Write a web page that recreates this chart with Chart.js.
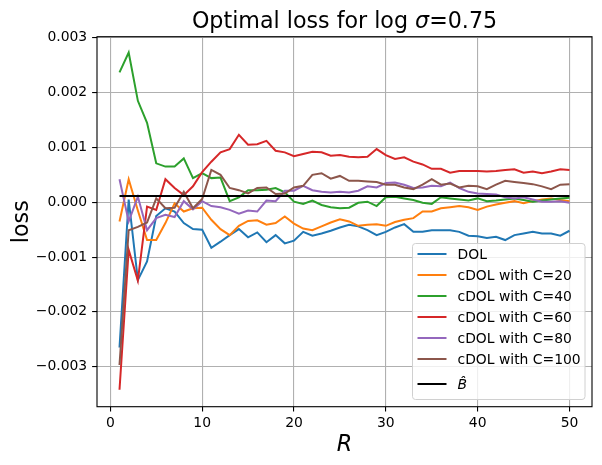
<!DOCTYPE html>
<html>
<head>
<meta charset="utf-8">
<script src="https://cdn.jsdelivr.net/npm/chart.js@4/dist/chart.umd.min.js"></script>
<style>
  html, body { margin: 0; padding: 0; background: #fff; }
  #wrap { width: 602px; height: 465px; }
</style>
</head>
<body>
<div id="wrap"><canvas id="chart"></canvas></div>
<script>
// ---- data ----
var R = [1,2,3,4,5,6,7,8,9,10,11,12,13,14,15,16,17,18,19,20,21,22,23,24,25,
         26,27,28,29,30,31,32,33,34,35,36,37,38,39,40,41,42,43,44,45,46,47,48,49,50];

var dol = [-0.00265,0.00005,-0.00142,-0.00108,-0.00025,-0.00011,-0.00017,-0.00038,-0.00049,-0.00050,
           -0.00083,-0.00072,-0.00060,-0.00049,-0.00064,-0.00055,-0.00073,-0.00060,-0.00075,-0.00070,
           -0.00054,-0.00061,-0.00057,-0.00052,-0.00046,-0.00041,-0.00044,-0.00051,-0.00060,-0.00054,
           -0.00046,-0.00040,-0.00054,-0.00054,-0.00051,-0.00051,-0.00051,-0.00054,-0.00061,-0.00062,
           -0.00065,-0.00063,-0.00069,-0.00060,-0.00057,-0.00054,-0.00057,-0.00057,-0.00061,-0.00052];

var c20 = [-0.00035,0.00042,-0.00015,-0.00069,-0.00069,-0.00038,-0.00002,-0.00017,-0.00011,-0.00010,
           -0.00032,-0.00049,-0.00060,-0.00043,-0.00034,-0.00033,-0.00041,-0.00038,-0.00026,-0.00039,
           -0.00048,-0.00051,-0.00044,-0.00037,-0.00031,-0.00035,-0.00043,-0.00041,-0.00040,-0.00043,
           -0.00036,-0.00032,-0.00029,-0.00017,-0.00017,-0.00011,-0.00009,-0.00007,-0.00009,-0.00014,
           -0.00008,-0.00004,-0.00001,0.00002,-0.00002,0.00002,0.00005,0.00007,0.00004,0.00002];

var c40 = [0.00237,0.00273,0.00185,0.00145,0.00071,0.00065,0.00065,0.00080,0.00044,0.00053,
           0.00044,0.00045,0.00002,0.00009,0.00022,0.00022,0.00023,0.00026,0.00018,0.00001,
           -0.00003,0.00003,-0.00005,-0.00009,-0.00011,-0.00010,-0.00001,0.00001,-0.00007,0.00009,
           0.00010,0.00007,0.00004,-0.00001,-0.00003,0.00009,0.00007,0.00005,0.00003,0.00007,
           0.00002,0.00003,0.00005,0.00007,0.00004,0.00001,0.00003,0.00005,0.00007,0.00008];

var c60 = [-0.00342,-0.00087,-0.00143,-0.00008,-0.00014,0.00042,0.00026,0.00013,0.00029,0.00055,
           0.00074,0.00091,0.00097,0.00123,0.00105,0.00106,0.00112,0.00094,0.00091,0.00084,
           0.00088,0.00092,0.00091,0.00085,0.00086,0.00083,0.00082,0.00083,0.00097,0.00086,
           0.00079,0.00082,0.00074,0.00069,0.00061,0.00061,0.00054,0.00057,0.00057,0.00057,
           0.00056,0.00057,0.00059,0.00060,0.00054,0.00056,0.00053,0.00056,0.00060,0.00059];

var c80 = [0.00042,-0.00035,0.00010,-0.00051,-0.00029,-0.00023,-0.00027,0.00002,-0.00013,0.00002,
           -0.00007,-0.00009,-0.00014,-0.00021,-0.00015,-0.00017,0.00003,0.00002,0.00021,0.00021,
           0.00030,0.00022,0.00019,0.00018,0.00019,0.00018,0.00021,0.00029,0.00027,0.00035,
           0.00036,0.00032,0.00026,0.00027,0.00030,0.00029,0.00036,0.00026,0.00019,0.00016,
           0.00015,0.00014,0.00009,0.00007,0.00009,0.00005,0.00001,0.00001,0.00002,-0.00001];

var c100 = [-0.00297,-0.00051,-0.00045,-0.00037,0.00007,-0.00011,-0.00010,0.00019,-0.00011,0.00006,
            0.00059,0.00050,0.00026,0.00022,0.00016,0.00026,0.00027,0.00015,0.00016,0.00027,
            0.00030,0.00050,0.00053,0.00043,0.00048,0.00039,0.00039,0.00038,0.00037,0.00032,
            0.00032,0.00027,0.00024,0.00032,0.00042,0.00032,0.00034,0.00027,0.00030,0.00029,
            0.00024,0.00032,0.00039,0.00037,0.00035,0.00033,0.00029,0.00024,0.00032,0.00033];

var bHat = 0.000115;

var seriesNames  = ['DOL', 'cDOL with C=20', 'cDOL with C=40', 'cDOL with C=60', 'cDOL with C=80', 'cDOL with C=100'];
var seriesValues = [dol, c20, c40, c60, c80, c100];
var seriesColors = ['#1f77b4', '#ff7f0e', '#2ca02c', '#d62728', '#9467bd', '#8c564b'];

var xTicks = [0, 10, 20, 30, 40, 50];
var yTicks = [-0.003, -0.002, -0.001, 0, 0.001, 0.002, 0.003];

// ---- build datasets ----
var FONT = '"DejaVu Sans", sans-serif';

function points(vals) {
    return R.map(function (r, i) { return { x: r, y: vals[i] }; });
}

var datasets = seriesNames.map(function (name, i) {
    return {
        label: name,
        data: points(seriesValues[i]),
        borderColor: seriesColors[i],
        borderWidth: 2,
        pointRadius: 0,
        tension: 0,
        fill: false,
        order: 10 - i
    };
});
datasets.push({
    label: 'B\u0302',
    data: [{ x: R[0], y: bHat }, { x: R[R.length - 1], y: bHat }],
    borderColor: '#000',
    borderWidth: 2,
    pointRadius: 0,
    fill: false,
    order: 1
});

function fmtTick(v) {
    var s = Math.abs(v).toFixed(3);
    return (v < -1e-9 ? '\u2212' : '') + s;
}

// frame, title and legend drawn like matplotlib
var decorPlugin = {
    id: 'decor',
    afterDatasetsDraw: function (chart) {
        var ctx = chart.ctx, a = chart.chartArea;
        ctx.save();
        ctx.strokeStyle = '#000';
        ctx.lineWidth = 1.1;
        ctx.strokeRect(a.left, a.top, a.right - a.left, a.bottom - a.top);
        ctx.restore();
    },
    afterDraw: function (chart) {
        var ctx = chart.ctx, a = chart.chartArea;
        ctx.save();

        // title
        var parts = [
            { t: 'Optimal loss for log ', f: '22.2px ' + FONT },
            { t: '\u03c3', f: 'italic 22.2px ' + FONT },
            { t: '=0.75', f: '22.2px ' + FONT }
        ];
        var total = 0;
        parts.forEach(function (p) { ctx.font = p.f; p.w = ctx.measureText(p.t).width; total += p.w; });
        var tx = (a.left + a.right) / 2 - total / 2;
        ctx.fillStyle = '#000';
        ctx.textBaseline = 'alphabetic';
        parts.forEach(function (p) { ctx.font = p.f; ctx.fillText(p.t, tx, 28); tx += p.w; });

        // legend
        var lx = 412.5, ly = 243.5, lw = 172.5, lh = 156;
        ctx.beginPath();
        ctx.roundRect(lx, ly, lw, lh, 3);
        ctx.fillStyle = 'rgba(255,255,255,0.8)';
        ctx.fill();
        ctx.strokeStyle = '#d0d0d0';
        ctx.lineWidth = 1;
        ctx.stroke();

        var rows = [254, 275, 296, 317, 338, 359, 384];
        chart.data.datasets.forEach(function (ds, i) {
            var y = rows[i];
            ctx.beginPath();
            ctx.moveTo(417.5, y);
            ctx.lineTo(446.5, y);
            ctx.strokeStyle = ds.borderColor;
            ctx.lineWidth = 2;
            ctx.stroke();
            ctx.fillStyle = '#000';
            ctx.textBaseline = 'middle';
            ctx.font = (i === 6 ? 'italic ' : '') + '13.9px ' + FONT;
            ctx.fillText(ds.label, 457.5, y + 1);
        });
        ctx.restore();
    }
};

new Chart(document.getElementById('chart'), {
    type: 'line',
    data: { datasets: datasets },
    plugins: [decorPlugin],
    options: {
        responsive: true,
        maintainAspectRatio: false,
        animation: false,
        layout: { padding: { top: 36.7, right: 10, left: 0, bottom: 0 } },
        plugins: {
            legend: { display: false },
            title: { display: false },
            tooltip: { enabled: false }
        },
        scales: {
            x: {
                type: 'linear',
                min: -1.45,
                max: 52.45,
                afterFit: function (s) { s.height = 58.3; },
                afterBuildTicks: function (s) { s.ticks = xTicks.map(function (v) { return { value: v }; }); },
                grid: { color: '#b0b0b0', lineWidth: 1.1, tickColor: '#000', tickLength: 4.9, tickWidth: 1.1 },
                border: { display: false },
                ticks: {
                    color: '#000', padding: 3, maxRotation: 0,
                    font: { family: FONT, size: 13.9 },
                    callback: function (v) { return String(v); }
                },
                title: {
                    display: true, text: 'R', color: '#000',
                    font: { family: FONT, size: 22.2, style: 'italic', lineHeight: 1.2 },
                    padding: { top: 0, bottom: 6.5 }
                }
            },
            y: {
                type: 'linear',
                min: -0.00373,
                max: 0.00302,
                afterFit: function (s) { s.width = 97; },
                afterBuildTicks: function (s) { s.ticks = yTicks.map(function (v) { return { value: v }; }); },
                grid: { color: '#b0b0b0', lineWidth: 1.1, tickColor: '#000', tickLength: 4.9, tickWidth: 1.1 },
                border: { display: false },
                ticks: {
                    color: '#000', padding: 4.9,
                    font: { family: FONT, size: 13.9 },
                    callback: function (v) { return fmtTick(v); }
                },
                title: {
                    display: true, text: 'loss', color: '#000',
                    font: { family: FONT, size: 22.2, lineHeight: 1.2 },
                    padding: { top: 8.7, bottom: 0 }
                }
            }
        }
    }
});
</script>
</body>
</html>
